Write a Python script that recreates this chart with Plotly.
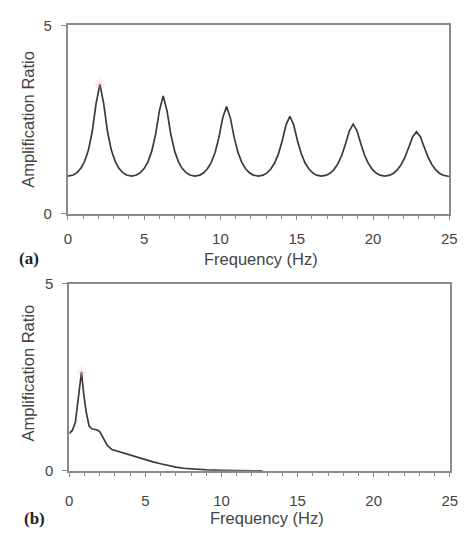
import plotly.graph_objects as go

# ---- Panel (a): amplification ratio vs frequency ----
freq_a = [0, 0.35, 0.6, 0.85, 1.1, 1.35, 1.6, 1.85, 2.1, 2.35, 2.6, 2.85, 3.1, 3.35, 3.6, 3.85,
          4.175,
          4.5, 4.75, 5.0, 5.25, 5.5, 5.75, 6.0, 6.25, 6.5, 6.75, 7.0, 7.25, 7.5, 7.75, 8.0,
          8.325,
          8.65, 8.9, 9.15, 9.4, 9.65, 9.9, 10.15, 10.4, 10.65, 10.9, 11.15, 11.4, 11.65, 11.9, 12.15,
          12.475,
          12.8, 13.05, 13.3, 13.55, 13.8, 14.05, 14.3, 14.55, 14.8, 15.05, 15.3, 15.55, 15.8, 16.05, 16.3,
          16.625,
          16.95, 17.2, 17.45, 17.7, 17.95, 18.2, 18.45, 18.7, 18.95, 19.2, 19.45, 19.7, 19.95, 20.2, 20.45,
          20.775,
          21.1, 21.35, 21.6, 21.85, 22.1, 22.35, 22.6, 22.85, 23.1, 23.35, 23.6, 23.85, 24.1, 24.35, 24.6,
          25.0]
amp_a = [1.00, 1.028, 1.093, 1.206, 1.392, 1.692, 2.184, 2.925, 3.44, 2.925, 2.184, 1.692, 1.392, 1.206, 1.093, 1.028,
         1.00,
         1.028, 1.091, 1.201, 1.379, 1.663, 2.109, 2.733, 3.13, 2.733, 2.109, 1.663, 1.379, 1.201, 1.091, 1.028,
         1.00,
         1.027, 1.088, 1.195, 1.365, 1.629, 2.029, 2.547, 2.85, 2.547, 2.029, 1.629, 1.365, 1.195, 1.088, 1.027,
         1.00,
         1.026, 1.085, 1.187, 1.348, 1.591, 1.941, 2.362, 2.59, 2.362, 1.941, 1.591, 1.348, 1.187, 1.085, 1.026,
         1.00,
         1.025, 1.082, 1.180, 1.330, 1.553, 1.860, 2.205, 2.38, 2.205, 1.860, 1.553, 1.330, 1.180, 1.082, 1.025,
         1.00,
         1.024, 1.078, 1.170, 1.310, 1.510, 1.772, 2.048, 2.18, 2.048, 1.772, 1.510, 1.310, 1.170, 1.078, 1.024,
         0.99]
peak_a_x = [2.1]
peak_a_y = [3.44]

# ---- Panel (b) ----
freq_b = [0, 0.2, 0.4, 0.6, 0.8, 0.95, 1.1, 1.3, 1.5, 1.8, 2.0, 2.2, 2.5, 2.8, 3.2, 3.6, 4.0, 4.5,
          5.0, 5.5, 6.0, 6.5, 7.0, 7.5, 8.0, 8.5, 9.0, 10.0, 11.0, 12.0, 12.7]
amp_b = [1.0, 1.08, 1.3, 1.9, 2.64, 2.05, 1.6, 1.2, 1.12, 1.1, 1.05, 0.9, 0.68, 0.57, 0.52, 0.48, 0.43, 0.35,
         0.3, 0.24, 0.19, 0.14, 0.1, 0.07, 0.05, 0.035, 0.025, 0.012, 0.006, 0.002, 0.0]
peak_b_x = [0.8]
peak_b_y = [2.64]

x_ticks = [0, 5, 10, 15, 20, 25]
y_ticks = [0, 5]
panel_labels = ["(a)", "(b)"]
x_title = "Frequency (Hz)"
y_title = "Amplification Ratio"

LINE = "#3a3a3a"
AXIS = "#8a8a8a"
TXT = "#444444"
FONT = "Liberation Sans, Arial, sans-serif"
MARK = "rgba(240,150,165,0.45)"

W, H = 470, 535


def px(sx):
    return sx / W


def py(sy):
    return 1 - sy / H


fig = go.Figure()
fig.add_trace(go.Scatter(x=freq_a, y=amp_a, mode="lines", line=dict(color=LINE, width=1.7),
                         xaxis="x", yaxis="y", showlegend=False, hoverinfo="skip"))
fig.add_trace(go.Scatter(x=peak_a_x, y=peak_a_y, mode="markers",
                         marker=dict(symbol="asterisk-open", size=9, color=MARK, line=dict(color=MARK, width=1)),
                         xaxis="x", yaxis="y", showlegend=False, hoverinfo="skip"))
fig.add_trace(go.Scatter(x=freq_b, y=amp_b, mode="lines", line=dict(color=LINE, width=1.7),
                         xaxis="x2", yaxis="y2", showlegend=False, hoverinfo="skip"))
fig.add_trace(go.Scatter(x=peak_b_x, y=peak_b_y, mode="markers",
                         marker=dict(symbol="asterisk-open", size=9, color=MARK, line=dict(color=MARK, width=1)),
                         xaxis="x2", yaxis="y2", showlegend=False, hoverinfo="skip"))


def xaxis(dom_x, anchor, standoff):
    return dict(domain=dom_x, anchor=anchor, range=[0, 25], tickvals=x_ticks,
                ticks="outside", ticklen=4, tickwidth=1, tickcolor=AXIS,
                minor=dict(dtick=1, ticks="outside", ticklen=3, tickcolor=AXIS, showgrid=False),
                showline=True, linecolor=AXIS, linewidth=2, mirror=True,
                showgrid=False, zeroline=False, ticklabelstandoff=standoff,
                ticklabeloverflow="allow",
                tickfont=dict(family=FONT, size=15, color=TXT))


def yaxis(dom_y, anchor):
    return dict(domain=dom_y, anchor=anchor, range=[0, 5], tickvals=y_ticks,
                ticks="outside", ticklen=5, tickwidth=1, tickcolor=AXIS,
                showline=True, linecolor=AXIS, linewidth=2, mirror=True,
                showgrid=False, zeroline=False, ticklabelstandoff=6,
                tickfont=dict(family=FONT, size=15, color=TXT))


fig.update_layout(
    width=W, height=H, margin=dict(l=0, r=0, t=0, b=0),
    paper_bgcolor="white", plot_bgcolor="white", hovermode=False,
    xaxis=xaxis([px(65.5), px(457)], "y", 6),
    yaxis=yaxis([py(211.5), py(17)], "x"),
    xaxis2=xaxis([px(67), px(457.5)], "y2", 11),
    yaxis2=yaxis([py(477), py(284)], "x2"),
)

ann = []
for lab, lab_x, tit_x, xt_y, yt_c in [(panel_labels[0], 26, 264, 258, 114),
                                      (panel_labels[1], 31, 270, 526, 376)]:
    ann.append(dict(text="<b>" + lab + "</b>", x=px(lab_x), y=py(xt_y), xref="paper", yref="paper",
                    showarrow=False, font=dict(family="Liberation Serif, Times New Roman, serif", size=17, color="#222"),
                    xanchor="center", yanchor="middle"))
    ann.append(dict(text=x_title, x=px(tit_x), y=py(xt_y), xref="paper", yref="paper",
                    showarrow=False, font=dict(family=FONT, size=16.5, color=TXT), xanchor="center", yanchor="middle"))
    ann.append(dict(text=y_title, x=px(25), y=py(yt_c), xref="paper", yref="paper", textangle=-90,
                    showarrow=False, font=dict(family=FONT, size=16.5, color=TXT), xanchor="center", yanchor="middle"))
fig.update_layout(annotations=ann)

# remove the default 8px page margin so the figure sits at the window's corner
fig.write_html("out.html", config={"displayModeBar": False, "staticPlot": True},
               post_script="document.body.style.margin='0';")
